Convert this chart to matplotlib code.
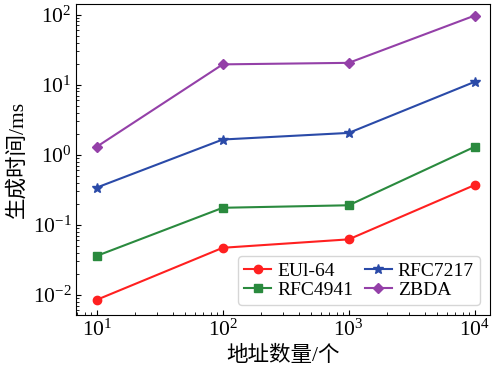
import matplotlib
matplotlib.use("Agg")
import matplotlib.pyplot as plt

plt.rcParams['font.family'] = ['Liberation Serif', 'Noto Sans CJK SC']
plt.rcParams['mathtext.fontset'] = 'stix'

x = [10, 100, 1000, 10000]
eui64 = [0.0085, 0.047, 0.062, 0.37]
rfc4941 = [0.036, 0.175, 0.19, 1.3]
rfc7217 = [0.34, 1.65, 2.05, 11]
zbda = [1.3, 19.5, 20.5, 97]

fig, ax = plt.subplots(figsize=(4.93, 3.66), dpi=100)
ax.plot(x, eui64, color='#ff2020', marker='o', markersize=6, lw=1.5, label='EUl-64')
ax.plot(x, rfc4941, color='#2a8a3e', marker='s', markersize=6, lw=1.5, label='RFC4941')
ax.plot(x, rfc7217, color='#2a4aa8', marker='*', markersize=7, lw=1.5, label='RFC7217')
ax.plot(x, zbda, color='#9440a8', marker='D', markersize=5.5, lw=1.5, label='ZBDA')
ax.set_xscale('log')
ax.set_yscale('log')
ax.set_xlim(6.9, 13100)
ax.set_ylim(0.0052, 140)
ax.tick_params(which='both', direction='in', labelsize=15.5)
ax.set_xlabel('地址数量/个', fontsize=15.5)
ax.set_ylabel('生成时间/ms', fontsize=15.5)
ax.legend(loc='lower right', ncol=2, fontsize=14, handlelength=1.4, columnspacing=0.6,
          labelspacing=0.1, handletextpad=0.3, borderpad=0.3)
fig.subplots_adjust(left=0.155, right=0.993, top=0.988, bottom=0.14)
fig.savefig('out.png', dpi=100)
